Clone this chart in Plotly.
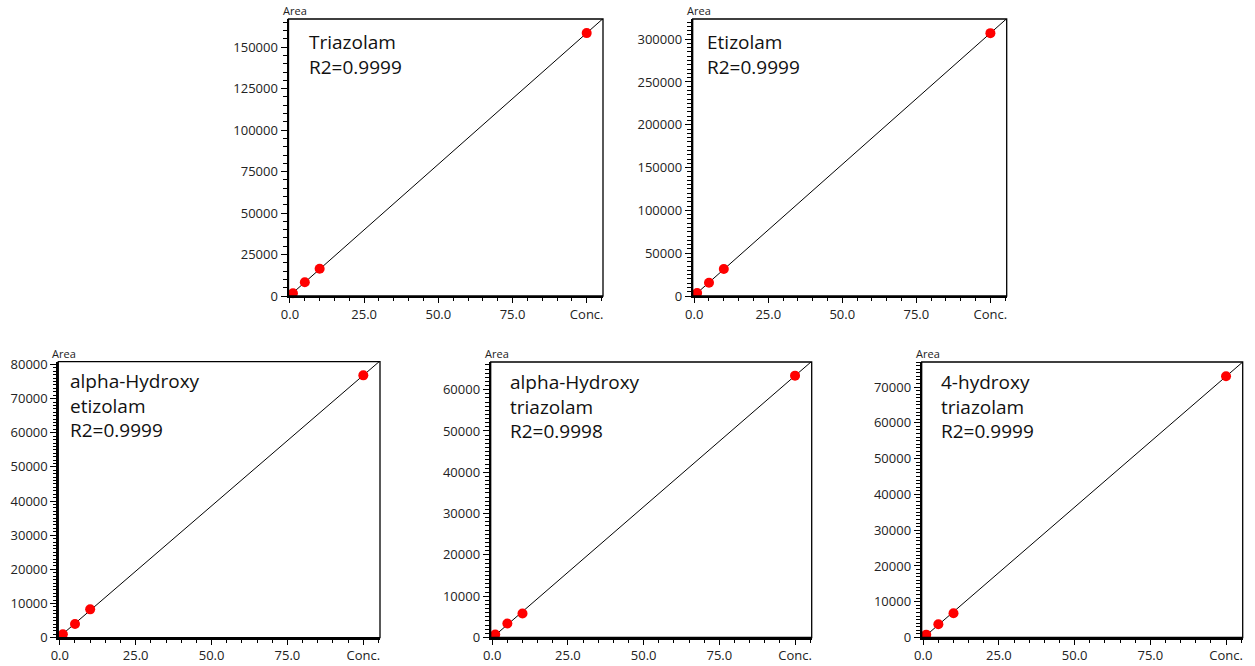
import numpy as np
import plotly.graph_objects as go

# ---------------- data ----------------
conc = [1, 5, 10, 100]
compound_names = ["Triazolam", "Etizolam", "alpha-Hydroxy<br>etizolam",
                  "alpha-Hydroxy<br>triazolam", "4-hydroxy<br>triazolam"]
r2_values = ["0.9999", "0.9999", "0.9999", "0.9998", "0.9999"]

area_triazolam = [1700, 8300, 16400, 158500]
area_etizolam = [3500, 15500, 31500, 307000]
area_aoh_etizolam = [1000, 4000, 8300, 76800]
area_aoh_triazolam = [700, 3400, 5800, 63400]
area_4oh_triazolam = [800, 3700, 6800, 73000]
areas = [area_triazolam, area_etizolam, area_aoh_etizolam,
         area_aoh_triazolam, area_4oh_triazolam]

x_tick_vals = [0, 25, 50, 75, 100]
x_tick_text = ["0.0", "25.0", "50.0", "75.0", "Conc."]
y_max = [167000, 323500, 80800, 66700, 77000]
y_dtick = [25000, 50000, 10000, 10000, 10000]
y_minor = [5000, 5000, 1000, 1000, 1000]

# ---------------- layout (pixels) ----------------
W, H = 1255, 666
# left, right, top, bottom in px
boxes = [(288.5, 603, 19, 296),
         (692.7, 1006.7, 19, 296),
         (58.3, 380, 361.7, 637.7),
         (490.7, 811.7, 362, 637.5),
         (921.7, 1242.7, 362, 637.5)]
title_dx = [18, 12, 9.5, 17.5, 17]
title_dy = [8, 8, 4.6, 4.6, 4.6]

fig = go.Figure()
FONT = "Open Sans"

for i, (yv, box) in enumerate(zip(areas, boxes)):
    n = i + 1
    xa = "x" if n == 1 else f"x{n}"
    ya = "y" if n == 1 else f"y{n}"
    L, R, T, B = box
    slope, icpt = np.polyfit(conc, yv, 1)
    xl = np.array([0.0, 110.0])
    fig.add_trace(go.Scatter(x=xl, y=slope * xl + icpt, mode="lines",
                             line=dict(color="black", width=1),
                             xaxis=xa, yaxis=ya, showlegend=False,
                             hoverinfo="skip"))
    fig.add_trace(go.Scatter(x=conc, y=yv, mode="markers",
                             marker=dict(color="#ff0000", size=10),
                             xaxis=xa, yaxis=ya, showlegend=False,
                             cliponaxis=False))
    xkey = "xaxis" if n == 1 else f"xaxis{n}"
    ykey = "yaxis" if n == 1 else f"yaxis{n}"
    fig.layout[xkey] = dict(
        domain=[L / W, R / W], anchor=ya, range=[-0.5, 105.5],
        automargin=False,
        tickvals=x_tick_vals, ticktext=x_tick_text,
        ticks="outside", ticklen=5, tickwidth=1.3, tickcolor="black",
        minor=dict(dtick=5, tick0=0, ticks="outside", ticklen=3,
                   tickwidth=1, tickcolor="black"),
        showline=True, linewidth=2, linecolor="black",
        showgrid=False, zeroline=False,
        tickfont=dict(family=FONT, size=13, color="#222"),
    )
    fig.layout[ykey] = dict(
        domain=[1 - B / H, 1 - T / H], anchor=xa, range=[0, y_max[i]],
        automargin=False,
        dtick=y_dtick[i], tick0=0, tickformat="d",
        ticks="outside", ticklen=6, tickwidth=1.3, tickcolor="black",
        minor=dict(dtick=y_minor[i], tick0=0, ticks="outside", ticklen=3.5,
                   tickwidth=1, tickcolor="black"),
        showline=True, linewidth=2, linecolor="black",
        showgrid=False, zeroline=False,
        tickfont=dict(family=FONT, size=13, color="#222"),
    )
    # frame (top/right)
    fig.add_shape(type="rect", xref=f"{xa} domain", yref=f"{ya} domain",
                  x0=0, x1=1, y0=0, y1=1,
                  line=dict(color="black", width=1.3), layer="above")
    # Area label
    fig.add_annotation(text="Area", xref=f"{xa} domain", yref=f"{ya} domain",
                       x=0, y=1, xanchor="left", yanchor="bottom",
                       xshift=-8, yshift=-1, showarrow=False,
                       font=dict(family=FONT, size=11, color="#222"))
    # compound label
    fig.add_annotation(text=f"{compound_names[i]}<br>R2={r2_values[i]}",
                       xref=f"{xa} domain", yref=f"{ya} domain",
                       x=0, y=1, xanchor="left", yanchor="top", align="left",
                       xshift=title_dx[i], yshift=-title_dy[i],
                       showarrow=False,
                       font=dict(family=FONT, size=19, color="#111"))

fig.update_layout(width=W, height=H,
                  margin=dict(l=0, r=0, t=0, b=0, autoexpand=False),
                  paper_bgcolor="white", plot_bgcolor="white")

fig.write_html("out.html", config={"displayModeBar": False},
               post_script="document.body.style.margin='0';document.body.style.padding='0';document.body.style.overflow='hidden';")
